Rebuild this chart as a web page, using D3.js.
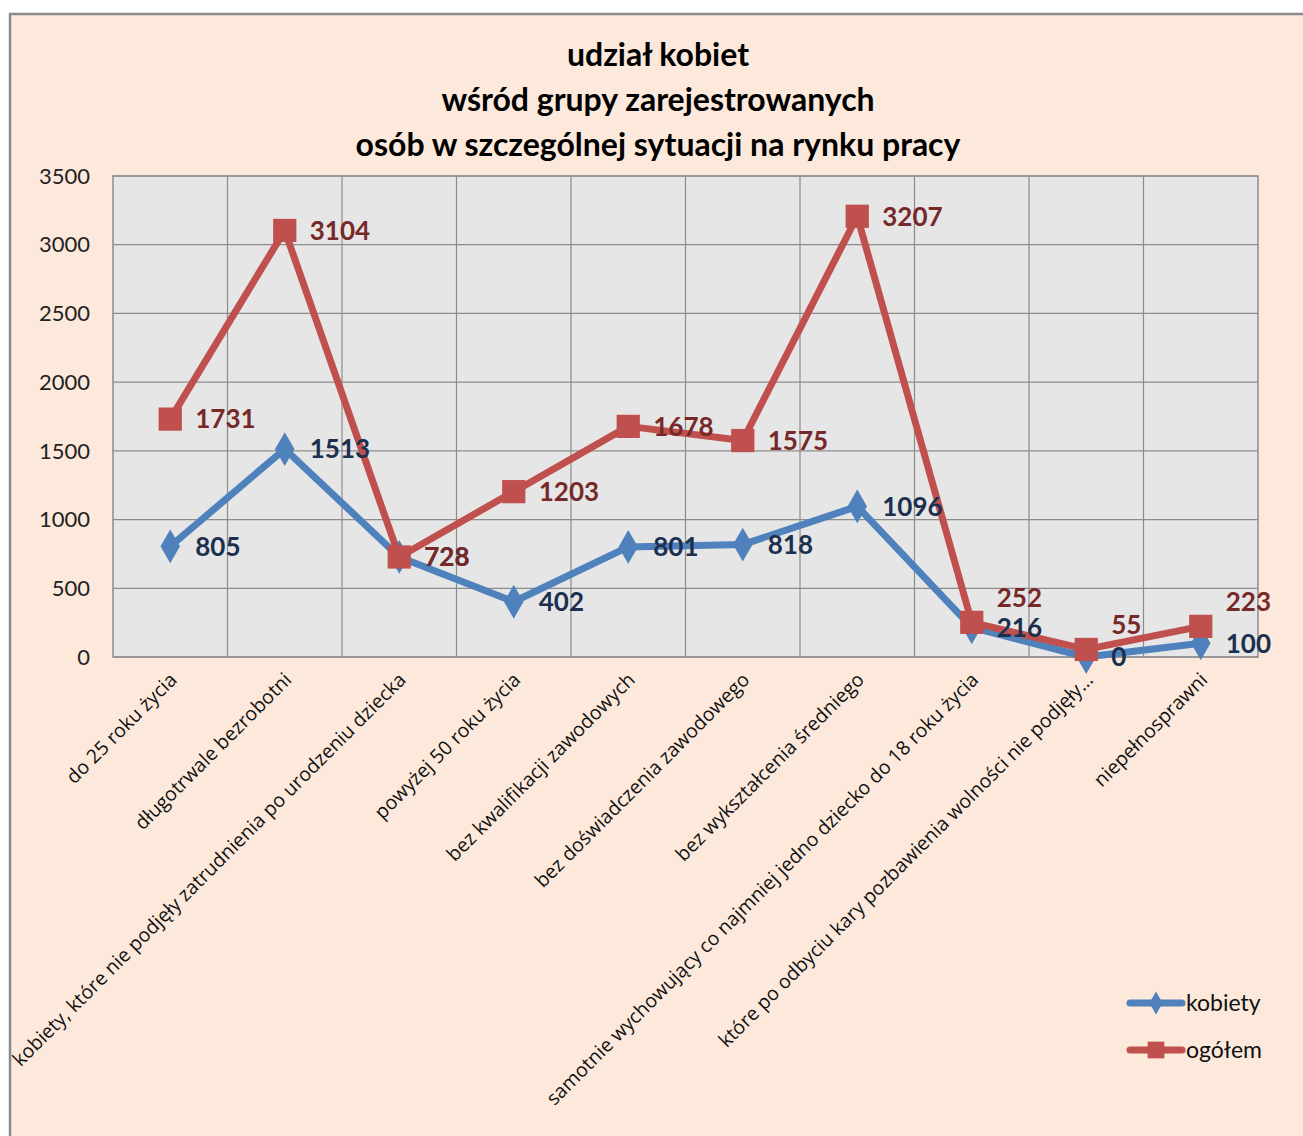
<!DOCTYPE html>
<html>
<head>
<meta charset="utf-8">
<script src="https://cdn.jsdelivr.net/npm/d3@7"></script>
<style>
  html, body { margin: 0; padding: 0; background: #fff; }
  svg { display: block; font-family: Lato, "Open Sans", sans-serif; }
</style>
</head>
<body>
<div class="chart"></div>
<script>
// data
const categories = [
    "do 25 roku życia",
    "długotrwale bezrobotni",
    "kobiety, które nie podjęły zatrudnienia po urodzeniu dziecka",
    "powyżej 50 roku życia",
    "bez kwalifikacji zawodowych",
    "bez doświadczenia zawodowego",
    "bez wykształcenia średniego",
    "samotnie wychowujący co najmniej jedno dziecko do 18 roku życia",
    "które po odbyciu kary pozbawienia wolności nie podjęły…",
    "niepełnosprawni"
];
const kobiety = [805, 1513, 728, 402, 801, 818, 1096, 216, 0, 100];
const ogolem = [1731, 3104, 728, 1203, 1678, 1575, 3207, 252, 55, 223];
const yTicks = [0, 500, 1000, 1500, 2000, 2500, 3000, 3500];
const titleLines = ["udział kobiet", "wśród grupy zarejestrowanych", "osób w szczególnej sytuacji na rynku pracy"];

const width = 1303, height = 1136;
const plot = {left: 113, right: 1258, top: 176, bottom: 657};

const svg = d3.select(".chart").append("svg")
    .attr("width", width)
    .attr("height", height);

// chart area background + border
svg.append("rect")
    .attr("x", 10).attr("y", 14)
    .attr("width", width + 20).attr("height", height + 20)
    .attr("fill", "#fce9db")
    .attr("stroke", "#8a8a8a")
    .attr("stroke-width", 2.5);

// title
svg.append("g").selectAll("text")
    .data(titleLines)
    .join("text")
    .attr("x", 658)
    .attr("y", (d, i) => 66 + i * 45)
    .attr("text-anchor", "middle")
    .attr("font-size", 32)
    .attr("font-weight", "bold")
    .attr("fill", "#000")
    .text(d => d);

const x = d3.scaleBand()
    .domain(categories)
    .range([plot.left, plot.right]);

const y = d3.scaleLinear()
    .domain([0, 3500])
    .range([plot.bottom, plot.top]);

// plot area
svg.append("rect")
    .attr("x", plot.left).attr("y", plot.top)
    .attr("width", plot.right - plot.left)
    .attr("height", plot.bottom - plot.top)
    .attr("fill", "#e6e6e6")
    .attr("stroke", "#8c8c8c")
    .attr("stroke-width", 1.5);

// horizontal grid
svg.append("g").selectAll("line")
    .data(yTicks)
    .join("line")
    .attr("x1", plot.left).attr("x2", plot.right)
    .attr("y1", d => y(d)).attr("y2", d => y(d))
    .attr("stroke", "#8c8c8c")
    .attr("stroke-width", 1.2);

// vertical grid at category boundaries
svg.append("g").selectAll("line")
    .data(categories.slice(1))
    .join("line")
    .attr("x1", d => x(d)).attr("x2", d => x(d))
    .attr("y1", plot.top).attr("y2", plot.bottom)
    .attr("stroke", "#8c8c8c")
    .attr("stroke-width", 1.2);

// y axis labels
svg.append("g").selectAll("text")
    .data(yTicks)
    .join("text")
    .attr("x", 90)
    .attr("y", d => y(d))
    .attr("dy", "0.35em")
    .attr("text-anchor", "end")
    .attr("font-size", 22)
    .attr("fill", "#222")
    .text(d => d);

// category labels, rotated
const cx = d => x(d) + x.bandwidth() / 2;
svg.append("g").selectAll("text")
    .data(categories)
    .join("text")
    .attr("transform", d => `translate(${cx(d) + 8},${plot.bottom + 24}) rotate(-45)`)
    .attr("text-anchor", "end")
    .attr("font-family", "'Open Sans', sans-serif")
    .attr("font-size", 19.5)
    .attr("fill", "#111")
    .text(d => d);

const series = [
    {name: "kobiety", values: kobiety, color: "#4f81bd", label: "#1b2f4f", shape: d3.symbolDiamond},
    {name: "ogółem", values: ogolem, color: "#c0504d", label: "#772828", shape: d3.symbolSquare}
];

const line = d3.line()
    .x((d, i) => cx(categories[i]))
    .y(d => y(d));

series.forEach(s => {
    const g = svg.append("g");
    g.append("path")
        .datum(s.values)
        .attr("fill", "none")
        .attr("stroke", s.color)
        .attr("stroke-width", 7)
        .attr("stroke-linejoin", "round")
        .attr("d", line);

    const sym = d3.symbol().type(s.shape).size(s.name === "kobiety" ? 330 : 540);
    g.selectAll("path.m")
        .data(s.values)
        .join("path")
        .attr("class", "m")
        .attr("transform", (d, i) => `translate(${cx(categories[i])},${y(d)})`)
        .attr("fill", s.color)
        .attr("d", sym);
});

// data labels on top; ogółem labels lifted where the two series nearly meet
const lift = (s, i) => {
    if (s.name !== "ogółem") return 0;
    const gap = ogolem[i] - kobiety[i];
    return gap > 0 && gap < 150 ? -25 : 0;
};
series.forEach(s => {
    svg.append("g").selectAll("text")
        .data(s.values)
        .join("text")
        .attr("x", (d, i) => cx(categories[i]) + 25)
        .attr("y", (d, i) => y(d) + lift(s, i))
        .attr("dy", "0.36em")
        .attr("font-size", 26)
        .attr("font-weight", "bold")
        .attr("fill", s.label)
        .text(d => d);
});

// legend
const legend = svg.append("g").attr("transform", "translate(1130,1003)");
series.forEach((s, i) => {
    const row = legend.append("g").attr("transform", `translate(0,${i * 47})`);
    row.append("line")
        .attr("x1", 0).attr("x2", 52)
        .attr("stroke", s.color)
        .attr("stroke-width", 7)
        .attr("stroke-linecap", "round");
    row.append("path")
        .attr("transform", "translate(26,0)")
        .attr("fill", s.color)
        .attr("d", d3.symbol().type(s.shape).size(s.name === "kobiety" ? 150 : 280));
    row.append("text")
        .attr("x", 56)
        .attr("dy", "0.35em")
        .attr("font-size", 23)
        .attr("fill", "#111")
        .text(s.name);
});
</script>
</body>
</html>
